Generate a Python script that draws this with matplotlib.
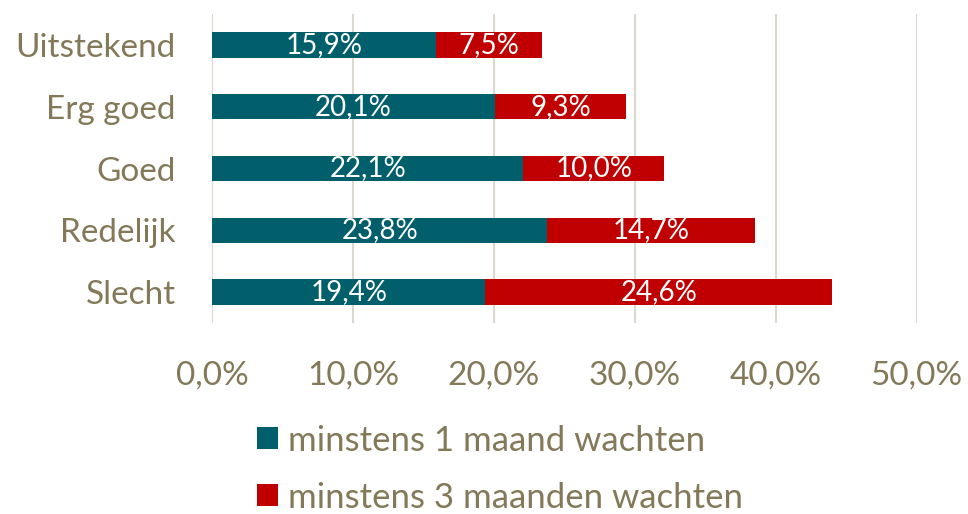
import matplotlib.pyplot as plt
from matplotlib.ticker import FuncFormatter

categories = ["Uitstekend", "Erg goed", "Goed", "Redelijk", "Slecht"]
een_maand = [15.9, 20.1, 22.1, 23.8, 19.4]
drie_maanden = [7.5, 9.3, 10.0, 14.7, 24.6]
series_names = ["minstens 1 maand wachten", "minstens 3 maanden wachten"]

teal = "#005F6B"
red = "#C00000"
txt = "#837959"

plt.rcParams['font.family'] = ['Lato', 'DejaVu Sans']

fig = plt.figure(figsize=(9.68, 5.14), dpi=100)
ax = fig.add_axes([0.219, 0.3716, 0.728, 0.601])

y = list(range(len(categories)))
b1 = ax.barh(y, een_maand, height=0.41, color=teal, label=series_names[0], zorder=3)
b2 = ax.barh(y, drie_maanden, left=een_maand, height=0.41, color=red,
             label=series_names[1], zorder=3)

for bars in (b1, b2):
    labels = [f"{b.get_width():.1f}%".replace(".", ",") for b in bars]
    ax.bar_label(bars, labels=labels, label_type="center", color="white", fontsize=20)

ax.set_xlim(0, 50)
ax.set_ylim(len(categories) - 0.5, -0.5)
ax.set_xticks([0, 10, 20, 30, 40, 50])
ax.xaxis.set_major_formatter(FuncFormatter(lambda v, p: f"{v:.1f}%".replace(".", ",")))
ax.set_yticks(y)
ax.set_yticklabels(categories)
ax.tick_params(axis="both", length=0, labelsize=24, labelcolor=txt)
ax.tick_params(axis="x", pad=27)
ax.tick_params(axis="y", pad=26)
ax.grid(axis="x", color="#DDD8CE", linewidth=1.5, zorder=0)
for s in ax.spines.values():
    s.set_visible(False)

fig.legend(handles=[b1, b2], loc="upper left", bbox_to_anchor=(0.2655, 0.174), ncol=1,
           frameon=False, fontsize=25, labelcolor=txt, handlelength=0.6,
           handleheight=0.6, handletextpad=0.3, labelspacing=0.72, borderpad=0,
           borderaxespad=0)

fig.savefig("out.png", dpi=100)
